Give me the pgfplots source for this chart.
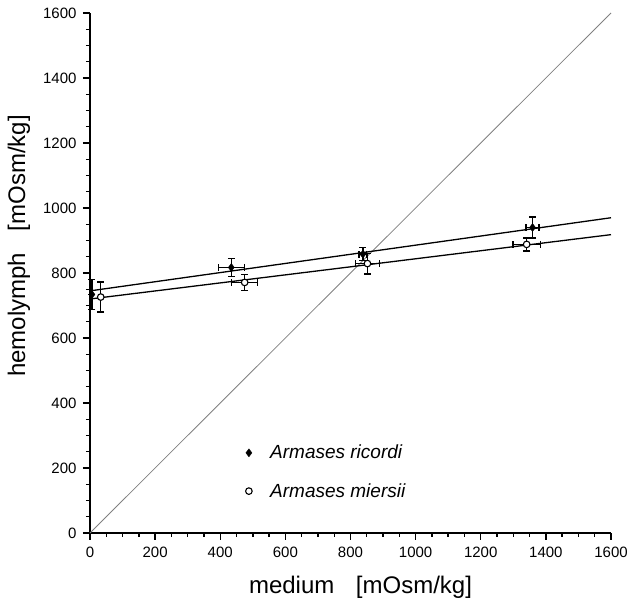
\documentclass[border=0pt]{standalone}
\usepackage{fontspec}
\setmainfont{Liberation Sans}
\usepackage{pgfplots}
\pgfplotsset{compat=1.18}
\usepackage{pgfplotstable}

% x, y, x error, y error
\pgfplotstableread{
x    y    ex   ey
6    734  0    47
434  817  40   28
838  858  12   20
1359 940  20   32
}\ricordi
\pgfplotstableread{
x    y    ex   ey
33   726  0    46
475  771  40   24
852  829  36   32
1341 888  42   20
}\miersii

\begin{document}
\begin{tikzpicture}
\begin{axis}[
    name=ax,
    scale only axis,
    width=521pt, height=520pt,
    xmin=0, xmax=1600, ymin=0, ymax=1600,
    axis lines*=left,
    axis line style={line width=1.6pt},
    xtick distance=200, ytick distance=200,
    minor tick num=3,
    tick align=outside,
    major tick length=7pt, minor tick length=4pt,
    every tick/.style={black, line width=1.4pt},
    tick label style={font=\fontsize{15}{15}\selectfont},
    xticklabel style={yshift=-3pt},
    yticklabel style={xshift=-3pt},
    /pgf/number format/assume math mode=true,
    /pgf/number format/1000 sep={},
    xlabel={medium\hspace{0.9em}[mOsm/kg]},
    ylabel={hemolymph\hspace{0.9em}[mOsm/kg]},
    label style={font=\fontsize{24}{24}\selectfont},
    xlabel style={yshift=-12pt, xshift=10pt},
    ylabel style={yshift=6pt, xshift=27pt},
    clip=false,
    legend style={draw=none, fill=none, at={(axis cs:468,283)}, anchor=north west,
        font=\fontsize{19}{19}\selectfont\itshape, row sep=19pt,
        /tikz/every odd column/.append style={column sep=16pt}},
    legend cell align=left,
]
% line of equal osmolality
\addplot[gray, line width=0.8pt, forget plot] coordinates {(0,0)(1600,1600)};
% regression lines
\addplot[black, line width=1.3pt, forget plot] coordinates {(0,745)(1600,970)};
\addplot[black, line width=1.3pt, forget plot] coordinates {(0,720)(1600,918)};

\addplot[only marks, mark=diamond*, mark size=4pt, black,
    error bars/.cd, x dir=both, x explicit, y dir=both, y explicit,
    error bar style={line width=1.3pt}, error mark options={rotate=90, mark size=3.5pt, line width=1.3pt}]
    table[x=x, y=y, x error=ex, y error=ey] {\ricordi};
\addlegendentry{Armases ricordi}
\addplot[only marks, mark=*, mark size=3.3pt, black, fill=white, mark options={fill=white, line width=1.1pt},
    error bars/.cd, x dir=both, x explicit, y dir=both, y explicit,
    error bar style={line width=1.3pt}, error mark options={rotate=90, mark size=3.5pt, line width=1.3pt}]
    table[x=x, y=y, x error=ex, y error=ey] {\miersii};
\addlegendentry{Armases miersii}
\end{axis}
\pgfresetboundingbox
\path ([shift={(-90pt,-68pt)}]ax.south west) rectangle ([shift={(23pt,13pt)}]ax.north east);
\end{tikzpicture}
\end{document}
